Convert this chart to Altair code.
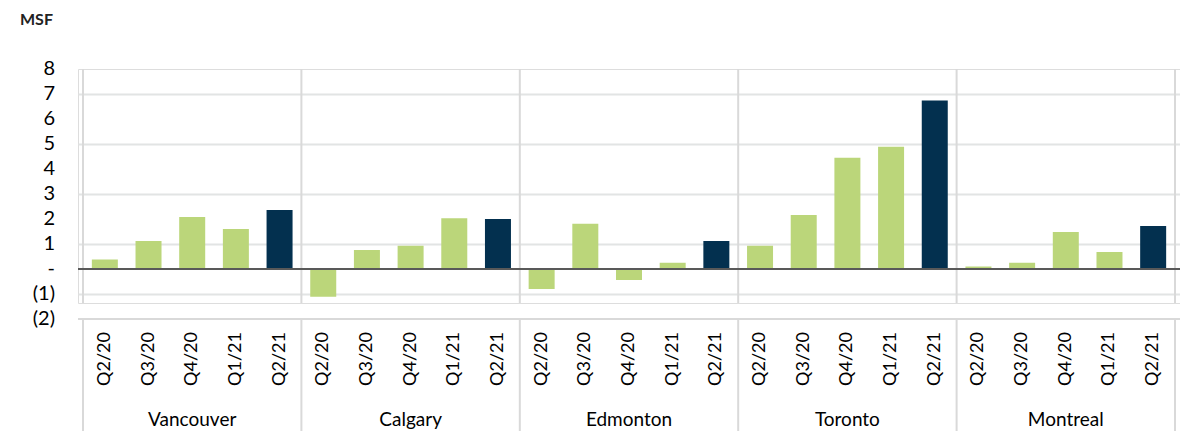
import altair as alt
import pandas as pd

cities = ["Vancouver", "Calgary", "Edmonton", "Toronto", "Montreal"]
quarters = ["Q2/20", "Q3/20", "Q4/20", "Q1/21", "Q2/21"]
vancouver = [0.38, 1.12, 2.08, 1.60, 2.36]
calgary = [-1.11, 0.76, 0.93, 2.03, 2.00]
edmonton = [-0.80, 1.81, -0.44, 0.25, 1.12]
toronto = [0.93, 2.16, 4.45, 4.89, 6.74]
montreal = [0.10, 0.25, 1.48, 0.68, 1.72]
series = [vancouver, calgary, edmonton, toronto, montreal]

y_ticks = [8, 7, 6, 5, 4, 3, 2, 1, 0, -1, -2]
y_tick_labels = ["8", "7", "6", "5", "4", "3", "2", "1", "-", "(1)", "(2)"]

GREEN = "#BBD67A"
NAVY = "#03304F"
LINE = "#D9D9D9"
FONT = "Lato"

rows = []
i = 0
for c, vals in zip(cities, series):
    for q, v in zip(quarters, vals):
        rows.append({"idx": i, "city": c, "quarter": q, "value": v,
                     "kind": "latest" if q == quarters[-1] else "prior"})
        i += 1
df = pd.DataFrame(rows)
n = len(df)
per = len(quarters)

city_df = pd.DataFrame({"city": cities,
                        "mid": [k * per + (per - 1) / 2 for k in range(len(cities))]})
bounds_df = pd.DataFrame({"b": [k * per - 0.5 for k in range(len(cities) + 1)]})
ylab_df = pd.DataFrame({"v": y_ticks, "lab": y_tick_labels})

W, H = 1102, 234
x_scale = alt.Scale(domain=[-0.5, n - 0.5], nice=False, zero=False)
y_scale = alt.Scale(domain=[-1.36, 8], nice=False, zero=False)

X = alt.X("idx:Q", scale=x_scale, axis=None)

bars = alt.Chart(df).mark_bar(size=26).encode(
    x=X,
    y=alt.Y("value:Q", scale=y_scale,
            axis=alt.Axis(values=list(range(-1, 9)), labels=False, ticks=False,
                          domain=False, grid=True, gridColor="#E2E4E4",
                          gridWidth=2, title=None)),
    color=alt.Color("kind:N", scale=alt.Scale(domain=["prior", "latest"],
                                              range=[GREEN, NAVY]), legend=None),
)

seps = alt.Chart(bounds_df).mark_rule(color=LINE, strokeWidth=2).encode(
    x=alt.X("b:Q", scale=x_scale, axis=None),
    y=alt.value(0), y2=alt.value(H),
)

zero = alt.Chart(pd.DataFrame({"z": [0]})).mark_rule(color="#595959", strokeWidth=2).encode(
    y=alt.Y("z:Q", scale=y_scale),
    x=alt.value(0), x2=alt.value(W),
)

box_top = alt.Chart(pd.DataFrame({"z": [0]})).mark_rule(color=LINE, strokeWidth=2).encode(
    x=alt.value(0), x2=alt.value(W), y=alt.value(250),
)
box_v = alt.Chart(bounds_df).mark_rule(color=LINE, strokeWidth=2).encode(
    x=alt.X("b:Q", scale=x_scale, axis=None),
    y=alt.value(250), y2=alt.value(380),
)

q_labels = alt.Chart(df).mark_text(angle=270, align="center", baseline="middle",
                                   font=FONT, fontSize=18, color="#000000").encode(
    x=X, y=alt.value(290), text="quarter:N",
)

c_labels = alt.Chart(city_df).mark_text(align="center", baseline="alphabetic",
                                        font=FONT, fontSize=19, color="#000000").encode(
    x=alt.X("mid:Q", scale=x_scale, axis=None), y=alt.value(357), text="city:N",
)

y_labels = alt.Chart(ylab_df).mark_text(align="right", baseline="middle",
                                        font=FONT, fontSize=20, color="#000000").encode(
    x=alt.value(-23), y=alt.Y("v:Q", scale=y_scale), text="lab:N",
)

msf = alt.Chart(pd.DataFrame({"t": ["MSF"]})).mark_text(
    align="left", baseline="alphabetic", font=FONT, fontSize=16, fontWeight="bold",
    color="#222222").encode(x=alt.value(-58), y=alt.value(-44), text="t:N")

chart = alt.layer(bars, seps, zero, box_top, box_v, q_labels, c_labels, y_labels, msf).properties(
    width=W, height=H,
    autosize=alt.AutoSizeParams(type="none"),
    padding={"left": 70, "top": 61, "right": 0, "bottom": 128},
).configure_view(stroke=None).configure(background="white")

chart.save("out.html", embed_options={"renderer": "svg", "actions": False})
